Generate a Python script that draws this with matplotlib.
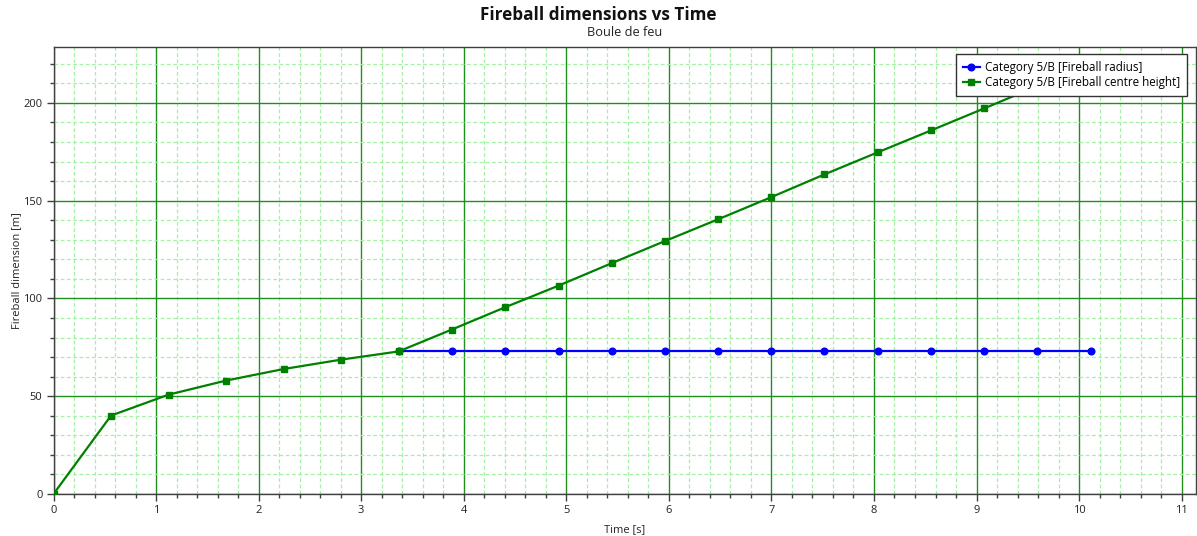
import matplotlib
matplotlib.use("Agg")
import matplotlib.pyplot as plt
from matplotlib.ticker import MultipleLocator

plt.rcParams['font.family'] = ['Open Sans', 'DejaVu Sans']

# Data
time_height = [0, 0.561, 1.122, 1.683, 2.244, 2.805, 3.366, 3.885, 4.405, 4.928,
               5.442, 5.961, 6.478, 7.0, 7.517, 8.037, 8.557, 9.077, 9.59, 10.113]
centre_height = [0, 40.1, 50.8, 58.0, 63.9, 68.7, 72.9, 84.1, 95.5, 106.6,
                 118.0, 129.3, 140.4, 151.8, 163.4, 174.7, 185.9, 197.2, 208.5, 219.8]
time_radius = [3.366, 3.885, 4.405, 4.928, 5.442, 5.961, 6.478, 7.0, 7.517, 8.037,
               8.557, 9.077, 9.59, 10.113]
radius = [73.0] * len(time_radius)

label_radius = "Category 5/B [Fireball radius]"
label_height = "Category 5/B [Fireball centre height]"

fig = plt.figure(figsize=(11.97, 5.36), dpi=100)
ax = fig.add_axes([53.5/1197, 1 - 494/536, (1196 - 53.5)/1197, (494 - 46.7)/536])

ax.plot(time_radius, radius, color='#0000ff', lw=1.6, marker='o', ms=4.8,
        label=label_radius, zorder=3)
ax.plot(time_height, centre_height, color='#008000', lw=1.6, marker='s', ms=5,
        label=label_height, zorder=4)

ax.set_xlim(0, 11.14)
ax.set_ylim(0, 228.7)
ax.xaxis.set_major_locator(MultipleLocator(1))
ax.xaxis.set_minor_locator(MultipleLocator(0.2))
ax.yaxis.set_major_locator(MultipleLocator(50))
ax.yaxis.set_minor_locator(MultipleLocator(10))

ax.grid(which='major', color='#1f8f1f', lw=1.0, ls='-', zorder=1)
ax.grid(which='minor', color='#a6f0a6', lw=0.9, ls=(0, (3, 2)), zorder=0)
ax.set_axisbelow(True)

for s in ax.spines.values():
    s.set_color('#404040')
    s.set_linewidth(1.0)
ax.tick_params(which='major', direction='out', length=5, width=1, color='#404040',
               labelsize=8, labelcolor='#222222', pad=3)
ax.tick_params(which='minor', direction='out', length=3, width=1, color='#404040')

ax.set_xlabel("Time [s]", fontsize=8, color='#222222', labelpad=6)
ax.set_ylabel("Fireball dimension [m]", fontsize=8, color='#222222', labelpad=1)

fig.text(0.5, 1 - 15/536, "Fireball dimensions vs Time", ha='center', va='center',
         fontsize=12.3, fontweight='bold', color='#111111')
fig.text((53.5 + 1196) / 2 / 1197, 1 - 33/536, "Boule de feu", ha='center',
         va='center', fontsize=9.2, color='#222222')

leg = ax.legend(loc='upper right', bbox_to_anchor=(1187/1197, 1 - 54/536),
                bbox_transform=fig.transFigure, fontsize=8.4, frameon=True,
                fancybox=False, framealpha=1, edgecolor='#333333',
                borderpad=0.6, handlelength=1.5, handletextpad=0.4,
                labelspacing=0.15, borderaxespad=0)
leg.get_frame().set_linewidth(1.0)
leg.set_zorder(10)

fig.savefig("out.png", dpi=100)
